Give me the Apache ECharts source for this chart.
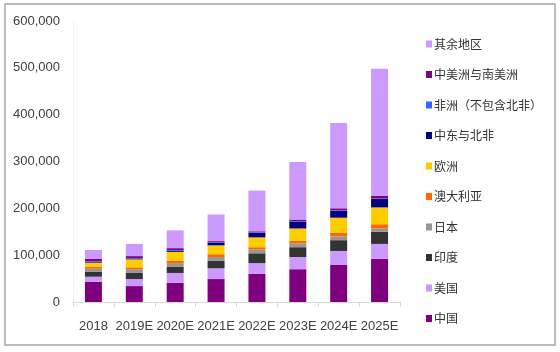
<!DOCTYPE html>
<html>
<head>
<meta charset="utf-8">
<script src="https://cdn.jsdelivr.net/npm/echarts@6/dist/echarts.min.js"></script>
<style>
  html, body { margin: 0; padding: 0; background: #fff; }
  #main { width: 560px; height: 352px; }
</style>
</head>
<body>
<div id="main"></div>
<script>
// categories and values (in units)
var years = ['2018', '2019E', '2020E', '2021E', '2022E', '2023E', '2024E', '2025E'];
var yTicks = [0, 100000, 200000, 300000, 400000, 500000, 600000];

var china    = [43000, 34000, 41000, 49000, 60000, 70000, 79000, 92000];
var usa      = [11000, 15000, 21000, 23000, 23000, 26000, 30000, 32000];
var india    = [11000, 13000, 13000, 16000, 21000, 21000, 23000, 26000];
var japan    = [6000, 8000, 8000, 8000, 8000, 8000, 8000, 7000];
var aus      = [4000, 4000, 5000, 6000, 5000, 6000, 8000, 9000];
var europe   = [9000, 17000, 19000, 19000, 21000, 26000, 32000, 36000];
var mena     = [2000, 2000, 3000, 6000, 10000, 15000, 15000, 18000];
var africa   = [1000, 1000, 1000, 1000, 1000, 1000, 1000, 1000];
var latam    = [5000, 4000, 4000, 2000, 2000, 3000, 4000, 6000];
var rest     = [19000, 26000, 38000, 57000, 87000, 123000, 182000, 271000];

var seriesDefs = [
  { name: '中国', data: china, color: '#7f007f' },
  { name: '美国', data: usa, color: '#cc99ff' },
  { name: '印度', data: india, color: '#333333' },
  { name: '日本', data: japan, color: '#969696' },
  { name: '澳大利亚', data: aus, color: '#ff6600' },
  { name: '欧洲', data: europe, color: '#ffcc00' },
  { name: '中东与北非', data: mena, color: '#000080' },
  { name: '非洲（不包含北非）', data: africa, color: '#3366ff' },
  { name: '中美洲与南美洲', data: latam, color: '#800080' },
  { name: '其余地区', data: rest, color: '#cc99ff' }
];

var font = "Arial, 'Liberation Sans', 'Noto Sans CJK SC', sans-serif";

var chart = echarts.init(document.getElementById('main'));
chart.setOption({
  animation: false,
  backgroundColor: '#fff',
  textStyle: { fontFamily: font },
  grid: { left: 73, right: 160, top: 21, bottom: 50 },
  legend: {
    orient: 'vertical',
    left: 421,
    top: 33,
    itemWidth: 6,
    itemHeight: 7,
    itemGap: 18.5,
    icon: 'rect',
    textStyle: { fontSize: 12, color: '#333', fontFamily: "'Noto Sans CJK SC', sans-serif", padding: [0, 0, 0, -3] },
    data: seriesDefs.map(function (s) { return s.name; }).reverse()
  },
  xAxis: {
    type: 'category',
    data: years,
    axisLine: { lineStyle: { color: '#d9d9d9' } },
    axisTick: { show: true, lineStyle: { color: '#d9d9d9' } },
    axisLabel: { color: '#404040', fontSize: 13, margin: 18, interval: 0 }
  },
  yAxis: {
    type: 'value',
    min: yTicks[0],
    max: yTicks[yTicks.length - 1],
    interval: 100000,
    axisLine: { show: true, lineStyle: { color: '#f2f2f2' } },
    axisTick: { show: false },
    splitLine: { show: false },
    axisLabel: {
      color: '#404040',
      fontSize: 13,
      margin: 13,
      formatter: function (v) { return v.toLocaleString('en-US'); }
    }
  },
  series: seriesDefs.map(function (s) {
    return {
      name: s.name,
      type: 'bar',
      stack: 'total',
      barWidth: 17,
      data: s.data,
      itemStyle: { color: s.color }
    };
  }),
  graphic: [{
    type: 'rect',
    shape: { x: 5, y: 4, width: 550, height: 341 },
    style: { fill: 'none', stroke: '#a6a6a6', lineWidth: 1.5 },
    silent: true
  }]
});
</script>
</body>
</html>
